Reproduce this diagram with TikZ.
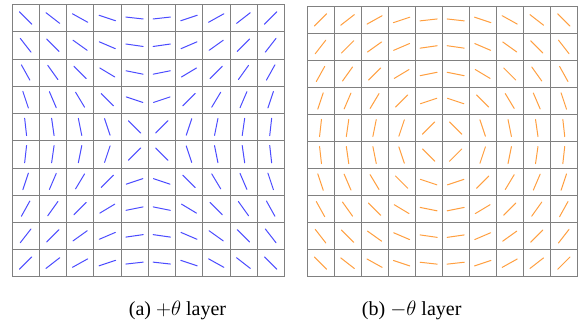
\documentclass[tikz,border=0pt]{standalone}
\usepackage{amsmath}
\usepackage{fontspec}
\setmainfont{Liberation Serif}
\usepackage{tikz}

\begin{document}
\begin{tikzpicture}[
        x=1pt,
        y=1pt,
        every node/.style={font=\fontsize{20}{24}\selectfont},
        cellgrid/.style={
            draw=black!50,
            line width=0.5pt
        },
        plusbar/.style={
            draw=blue!70,
            line width=1pt,
            line cap=round
        },
        minusbar/.style={
            draw=orange!75,
            line width=1pt,
            line cap=round
        }
    ]
    \useasboundingbox (0,0) rectangle (579,322);

    % +theta layer
    \begin{scope}[shift={(12pt,45.3pt)}, x=27.23pt, y=27.23pt]
        \foreach \k in {0,...,10}
        {
            \draw[cellgrid] (\k,0) -- (\k,10);
            \draw[cellgrid] (0,\k) -- (10,\k);
        }
        \foreach \i in {0,...,9}
            \foreach \j in {0,...,9}
            {
                \pgfmathsetmacro{\ang}{atan2(\i-4.5,\j-4.5)}
                \draw[plusbar] (\i+0.5,\j+0.5) ++(\ang:0.32) -- ++(\ang+180:0.64);
            }
    \end{scope}

    % -theta layer
    \begin{scope}[shift={(307pt,45.3pt)}, x=27.03pt, y=27.03pt]
        \foreach \k in {0,...,10}
        {
            \draw[cellgrid] (\k,0) -- (\k,10);
            \draw[cellgrid] (0,\k) -- (10,\k);
        }
        \foreach \i in {0,...,9}
            \foreach \j in {0,...,9}
            {
                \pgfmathsetmacro{\ang}{atan2(4.5-\i,\j-4.5)}
                \draw[minusbar] (\i+0.5,\j+0.5) ++(\ang:0.32) -- ++(\ang+180:0.64);
            }
    \end{scope}

    % captions
    \node[anchor=base] (capplus) at (177.5,7) {(a) $+\theta$ layer};
    \node[anchor=base] (capminus) at (411.7,7) {(b) $-\theta$ layer};

\end{tikzpicture}
\end{document}
